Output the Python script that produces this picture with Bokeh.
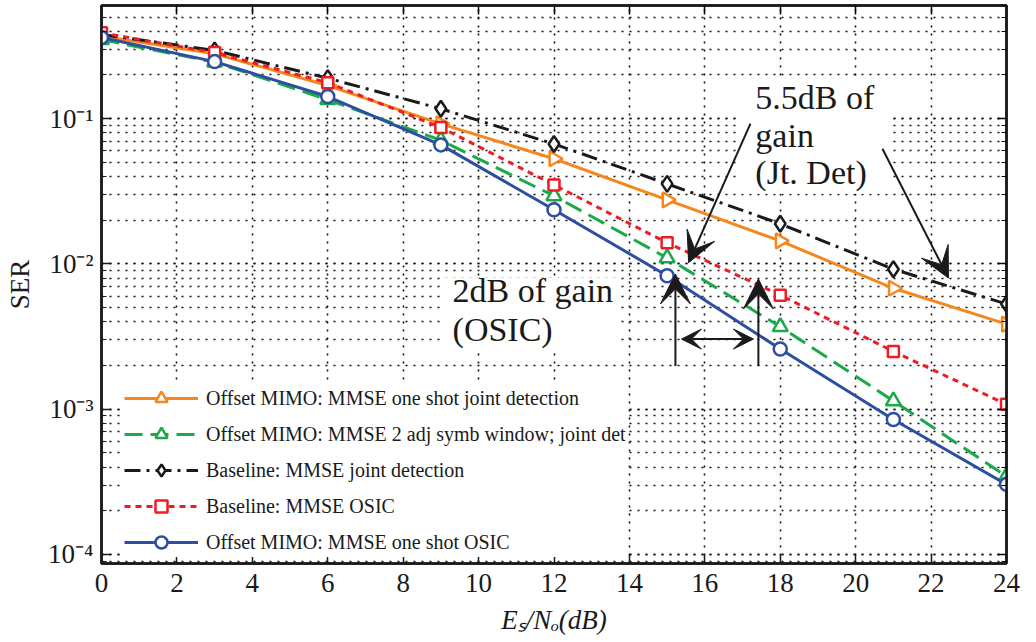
import numpy as np
from bokeh.plotting import figure
from bokeh.models import (Range1d, FixedTicker, LogTicker, LinearAxis, LogAxis, Legend, LegendItem,
                          Arrow, VeeHead, Label, BoxAnnotation, CustomJSTickFormatter, ColumnDataSource)
from bokeh.embed import file_html
from bokeh.resources import INLINE

# ---------------- data ----------------
snr_db = [0, 3, 6, 9, 12, 15, 18, 21, 24]
ser_offset_joint = [0.37, 0.28, 0.169, 0.092, 0.053, 0.0276, 0.0144, 0.0068, 0.00385]
ser_offset_2adj = [0.35, 0.245, 0.135, 0.071, 0.0294, 0.011, 0.0037, 0.00114, 0.000345]
ser_base_joint = [0.38, 0.295, 0.19, 0.117, 0.067, 0.0356, 0.0189, 0.0092, 0.0053]
ser_base_osic = [0.39, 0.285, 0.177, 0.087, 0.035, 0.014, 0.0061, 0.0025, 0.00108]
ser_offset_osic = [0.362, 0.247, 0.142, 0.066, 0.0236, 0.0083, 0.0026, 0.00085, 0.000304]

series_labels = [
    "Offset MIMO: MMSE one shot joint detection",
    "Offset MIMO: MMSE 2 adj symb window; joint det",
    "Baseline: MMSE joint detection",
    "Baseline: MMSE OSIC",
    "Offset MIMO: MMSE one shot OSIC",
]
x_ticks = [0, 2, 4, 6, 8, 10, 12, 14, 16, 18, 20, 22, 24]
y_tick_labels = {"-4": "10\u207b\u2074", "-3": "10\u207b\u00b3", "-2": "10\u207b\u00b2", "-1": "10\u207b\u00b9"}
x_label = "E\u209b/N\u2092(dB)"
y_label = "SER"

annot_jt = ["5.5dB of", "gain", "(Jt. Det)"]
annot_osic = ["2dB of gain", "(OSIC)"]

SERIF = "Liberation Serif"
SERIF_Q = "'Liberation Serif'"

p = figure(frame_width=905, frame_height=558, width=1036, height=642,
           x_range=Range1d(0, 24), y_range=Range1d(10 ** -4.062, 10 ** -0.221),
           y_axis_type="log", output_backend="svg", toolbar_location=None,
           min_border_left=101, min_border_right=30, min_border_top=5, min_border_bottom=79)
p.background_fill_color = "white"
p.border_fill_color = "white"
p.outline_line_color = "#1a1a1a"
p.outline_line_width = 2.5

# axes
xa = p.xaxis[0]
xa.ticker = FixedTicker(ticks=x_ticks)
ya = p.yaxis[0]
ya.ticker = LogTicker(num_minor_ticks=10)
ya.formatter = CustomJSTickFormatter(args=dict(labels=y_tick_labels),
                                     code="const e = Math.round(Math.log10(tick)); return labels[String(e)] || '';")
for ax in (xa, ya):
    ax.axis_line_color = "#1a1a1a"
    ax.axis_line_width = 2.5
    ax.major_tick_in = 9
    ax.major_tick_out = 0
    ax.minor_tick_in = 5
    ax.minor_tick_out = 0
    ax.major_tick_line_color = "#1a1a1a"
    ax.major_tick_line_width = 1.5
    ax.minor_tick_line_color = "#1a1a1a"
    ax.minor_tick_line_width = 1.2
    ax.major_label_text_font = SERIF_Q
    ax.major_label_text_font_size = "27px"
    ax.major_label_text_color = "#1a1a1a"
    ax.axis_label_text_font = SERIF_Q
    ax.axis_label_text_font_size = "27px"
    ax.axis_label_text_font_style = "normal"
    ax.axis_label_text_color = "#1a1a1a"
xa.minor_tick_line_color = None
xa.major_label_standoff = 10
xa.axis_label = x_label
xa.axis_label_text_font_style = "italic"
xa.axis_label_standoff = 10
ya.axis_label = y_label
ya.major_label_standoff = 8
ya.axis_label_standoff = 10

blank = CustomJSTickFormatter(code="return '';")
top = LinearAxis(ticker=FixedTicker(ticks=x_ticks), formatter=blank, major_label_standoff=0,
                 major_tick_in=9, major_tick_out=0, minor_tick_line_color=None,
                 axis_line_color="#1a1a1a", axis_line_width=2.5, major_tick_line_width=1.5,
                 major_label_text_font_size="1px")
p.add_layout(top, "above")
right = LogAxis(ticker=LogTicker(num_minor_ticks=10), formatter=blank, major_label_standoff=0,
                major_tick_in=9, major_tick_out=0, minor_tick_in=5, minor_tick_out=0,
                axis_line_color="#1a1a1a", axis_line_width=2.5, major_tick_line_width=1.5,
                major_label_text_font_size="1px")
p.add_layout(right, "right")

# grid
p.xgrid.ticker = FixedTicker(ticks=x_ticks)
for g in (p.xgrid[0], p.ygrid[0]):
    g.grid_line_color = "#111111"
    g.grid_line_dash = "2 6"
    g.grid_line_width = 1.6
p.ygrid.minor_grid_line_color = "#111111"
p.ygrid.minor_grid_line_dash = "2 6"
p.ygrid.minor_grid_line_width = 1.6

# white boxes behind annotations
p.add_layout(BoxAnnotation(left=16.85, right=20.95, top=0.183, bottom=0.0304,
                           fill_color="white", fill_alpha=1, line_color=None, level="underlay"))
p.add_layout(BoxAnnotation(left=9.0, right=13.7, top=0.0080, bottom=0.00259,
                           fill_color="white", fill_alpha=1, line_color=None, level="underlay"))

styles = [
    dict(y=ser_offset_joint, color="#F5871F", dash="solid", marker="triangle", angle=-np.pi / 2, size=15),
    dict(y=ser_offset_2adj, color="#1BAA4A", dash="18 8", marker="triangle", angle=0.0, size=15),
    dict(y=ser_base_joint, color="#1a1a1a", dash="16 6 3 6", marker="diamond", angle=0.0, size=16),
    dict(y=ser_base_osic, color="#EE1D25", dash="6 5", marker="square", angle=0.0, size=11),
    dict(y=ser_offset_osic, color="#2D4FA2", dash="solid", marker="circle", angle=0.0, size=13),
]
items = []
for st, lab in zip(styles, series_labels):
    src = ColumnDataSource(dict(x=snr_db, y=st["y"], a=[st["angle"]] * len(snr_db)))
    lr = p.line("x", "y", source=src, line_color=st["color"], line_width=3, line_dash=st["dash"])
    mr = p.scatter("x", "y", source=src, marker=st["marker"], size=st["size"], angle="a",
                   line_color=st["color"], line_width=2.5, fill_color="white")
    items.append(LegendItem(label=lab, renderers=[lr, mr], index=0))

legend = Legend(items=items, location=(23, 6), padding=4, spacing=6, margin=0,
                glyph_width=74, glyph_height=30, label_height=30, label_standoff=8,
                label_text_font=SERIF, label_text_font_size="20px", label_text_color="#1a1a1a",
                border_line_color=None, background_fill_color="white", background_fill_alpha=1)
p.add_layout(legend, "center")

# arrows
def arrow(x0, y0, x1, y1, both=False, size=30):
    head = VeeHead(size=size, fill_color="#1a1a1a", line_color="#1a1a1a")
    kw = dict(end=head, x_start=x0, y_start=y0, x_end=x1, y_end=y1, line_width=2, line_color="#1a1a1a")
    if both:
        kw["start"] = VeeHead(size=size, fill_color="#1a1a1a", line_color="#1a1a1a")
    else:
        kw["start"] = None
    p.add_layout(Arrow(**kw))

arrow(17.21, 0.0924, 15.57, 0.0102)
arrow(20.71, 0.062, 22.46, 0.0080)
arrow(15.22, 0.00198, 15.22, 0.00853)
arrow(17.42, 0.00198, 17.42, 0.00788)
arrow(15.38, 0.00304, 17.29, 0.00304, both=True, size=20)

# annotation texts
for txt, yv in zip(annot_jt, [0.1396, 0.0763, 0.0425]):
    p.add_layout(Label(x=17.34, y=yv, text=txt, text_baseline="middle", text_align="left",
                       text_font=SERIF_Q, text_font_size="34px", text_color="#1a1a1a"))
for txt, yv in zip(annot_osic, [0.00652, 0.00356]):
    p.add_layout(Label(x=9.31, y=yv, text=txt, text_baseline="middle", text_align="left",
                       text_font=SERIF_Q, text_font_size="34px", text_color="#1a1a1a"))

open("out.html", "w").write(file_html(p, INLINE))
